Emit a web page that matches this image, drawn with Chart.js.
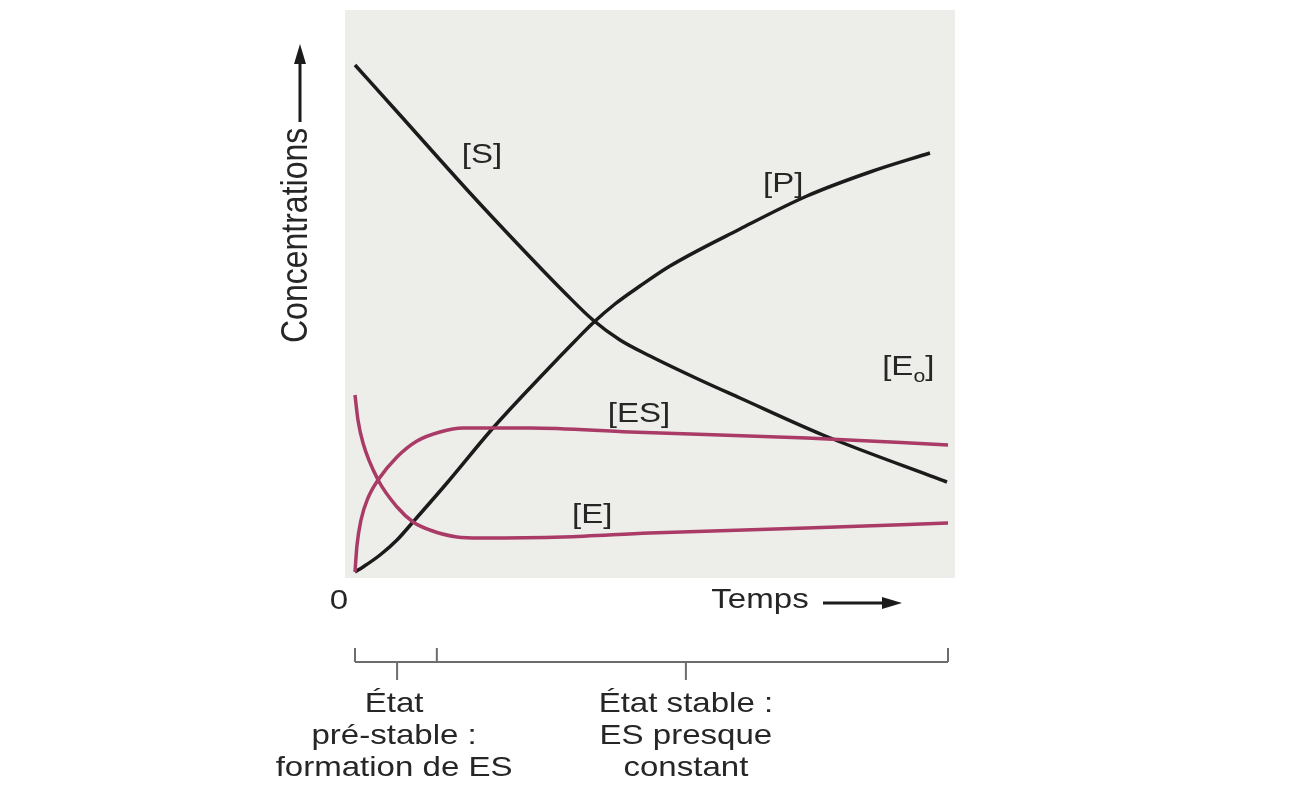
<!DOCTYPE html>
<html lang="fr">
<head>
<meta charset="utf-8">
<script src="https://cdn.jsdelivr.net/npm/chart.js@4/dist/chart.umd.min.js"></script>
<style>
  html, body { margin: 0; background: #fff; }
  #wrap { width: 1291px; height: 811px; position: relative; }
</style>
</head>
<body>
<div id="wrap"><canvas id="chart"></canvas></div>
<script>
// time runs 0..100, concentrations in arbitrary units
const sTime = [0, 7.59, 19.39, 29.51, 35.41, 40.13, 44.69, 49.75, 58.18, 64.92, 78.92, 99.83];
const sConc = [102, 92, 76.4, 63.6, 56.4, 51, 47, 43.8, 39, 35.4, 28, 18.6];

const pTime = [0, 1.35, 4.22, 7.08, 9.78, 15.51, 23.27, 32.38, 37.1, 40.13, 43.84, 48.06, 53.12, 64.92, 76.22, 86.85, 96.96];
const pConc = [0.6, 1.6, 4, 7, 10.6, 18.4, 29.4, 41, 46.8, 50.4, 54.2, 57.8, 61.8, 69.2, 75.8, 80.6, 84.4];

const esTime = [0, 0.34, 1.01, 2.19, 3.88, 7.08, 10.46, 14.33, 18.2, 29.5, 46.4, 76.2, 100];
const esConc = [0.6, 6, 11, 15.4, 19, 23.6, 26.8, 28.6, 29.4, 29.4, 28.6, 27.4, 26];

const eTime = [0, 0.5, 1.35, 3.9, 7.1, 9.8, 12.6, 17.2, 21.1, 35.1, 49.7, 76.2, 100];
const eConc = [36, 31, 26.4, 19, 13.6, 10.6, 9, 7.6, 7.4, 7.6, 8.4, 9.4, 10.4];

// phase bracket under the time axis
const phaseEdges = [0, 13.8, 100];
const phaseMarks = [7.1, 55.8];
const phaseLabels = [
  ['État', 'pré-stable :', 'formation de ES'],
  ['État stable :', 'ES presque', 'constant']
];

const INK = '#1b1b1b';
const PINK = '#a93b66';
const TEXT = '#262626';
const FONT = '"Liberation Sans", Arial, sans-serif';
const STRETCH = 1.18;

function toPoints(xs, ys) {
  return xs.map((x, i) => ({ x: x, y: ys[i] }));
}

function wideText(ctx, text, x, y, align) {
  ctx.save();
  ctx.translate(x, y);
  ctx.scale(STRETCH, 1);
  ctx.textAlign = align || 'center';
  ctx.textBaseline = 'alphabetic';
  ctx.fillText(text, 0, 0);
  ctx.restore();
}

function arrowHead(ctx, x, y, dir) {
  // dir: 'up' or 'right'
  ctx.beginPath();
  if (dir === 'up') {
    ctx.moveTo(x, y);
    ctx.lineTo(x - 6, y + 20);
    ctx.lineTo(x + 6, y + 20);
  } else {
    ctx.moveTo(x, y);
    ctx.lineTo(x - 20, y - 6);
    ctx.lineTo(x - 20, y + 6);
  }
  ctx.closePath();
  ctx.fill();
}

const paperPlugin = {
  id: 'paper',
  beforeDraw(chart) {
    const { ctx, chartArea } = chart;
    ctx.save();
    ctx.fillStyle = '#ededea';
    ctx.fillRect(chartArea.left, chartArea.top, chartArea.right - chartArea.left, chartArea.bottom - chartArea.top);
    ctx.restore();
  }
};

const annotatePlugin = {
  id: 'annotate',
  afterDraw(chart) {
    const { ctx, chartArea } = chart;
    const xs = chart.scales.x, ys = chart.scales.y;
    ctx.save();
    ctx.fillStyle = TEXT;
    ctx.font = '28px ' + FONT;

    // curve names
    wideText(ctx, '[S]', xs.getPixelForValue(21.4), ys.getPixelForValue(82.4));
    wideText(ctx, '[P]', xs.getPixelForValue(72.2), ys.getPixelForValue(76.6));
    wideText(ctx, '[ES]', xs.getPixelForValue(47.9), ys.getPixelForValue(30.6));
    wideText(ctx, '[E]', xs.getPixelForValue(40), ys.getPixelForValue(10.4));

    // [E0] with subscript
    let ex = xs.getPixelForValue(88.9), ey = ys.getPixelForValue(40);
    wideText(ctx, '[E', ex, ey, 'left');
    ex += ctx.measureText('[E').width * STRETCH;
    ctx.font = '18px ' + FONT;
    wideText(ctx, 'o', ex, ey + 7, 'left');
    ex += ctx.measureText('o').width * STRETCH;
    ctx.font = '28px ' + FONT;
    wideText(ctx, ']', ex, ey, 'left');

    // origin and time axis
    const x0 = xs.getPixelForValue(0);
    wideText(ctx, '0', x0 - 16, chartArea.bottom + 31);
    wideText(ctx, 'Temps', 760, chartArea.bottom + 30);
    ctx.strokeStyle = INK;
    ctx.fillStyle = INK;
    ctx.lineWidth = 3;
    ctx.beginPath();
    ctx.moveTo(823, chartArea.bottom + 25);
    ctx.lineTo(884, chartArea.bottom + 25);
    ctx.stroke();
    arrowHead(ctx, 902, chartArea.bottom + 25, 'right');

    // concentration axis
    const ax = chartArea.left - 45;
    ctx.beginPath();
    ctx.moveTo(ax, 122);
    ctx.lineTo(ax, 60);
    ctx.stroke();
    arrowHead(ctx, ax, 44, 'up');
    ctx.fillStyle = TEXT;
    ctx.save();
    ctx.translate(ax + 7, 343);
    ctx.rotate(-Math.PI / 2);
    ctx.scale(1, STRETCH);
    ctx.font = '32px ' + FONT;
    ctx.textAlign = 'left';
    ctx.fillText('Concentrations', 0, 0);
    ctx.restore();

    // phase bracket
    const by = 662;
    ctx.strokeStyle = '#6d6d6d';
    ctx.lineWidth = 2;
    ctx.beginPath();
    ctx.moveTo(xs.getPixelForValue(phaseEdges[0]), by);
    ctx.lineTo(xs.getPixelForValue(phaseEdges[phaseEdges.length - 1]), by);
    phaseEdges.forEach(v => {
      const px = xs.getPixelForValue(v);
      ctx.moveTo(px, by);
      ctx.lineTo(px, by - 14);
    });
    phaseMarks.forEach(v => {
      const px = xs.getPixelForValue(v);
      ctx.moveTo(px, by);
      ctx.lineTo(px, by + 18);
    });
    ctx.stroke();

    ctx.fillStyle = TEXT;
    ctx.font = '28px ' + FONT;
    phaseLabels.forEach((lines, i) => {
      const cx = xs.getPixelForValue(phaseMarks[i]) - (i === 0 ? 3 : 0);
      lines.forEach((t, j) => wideText(ctx, t, cx, 712 + j * 32));
    });
    ctx.restore();
  }
};

function curve(label, xs, ys, color) {
  return {
    label: label,
    data: toPoints(xs, ys),
    borderColor: color,
    borderWidth: 3.5,
    pointRadius: 0,
    cubicInterpolationMode: 'monotone',
    fill: false
  };
}

new Chart(document.getElementById('chart'), {
  type: 'line',
  data: {
    datasets: [
      curve('[ES]', esTime, esConc, PINK),
      curve('[E]', eTime, eConc, PINK),
      curve('[S]', sTime, sConc, INK),
      curve('[P]', pTime, pConc, INK)
    ]
  },
  options: {
    responsive: true,
    maintainAspectRatio: false,
    animation: false,
    layout: { padding: { left: 345, top: 10, right: 336, bottom: 233 } },
    plugins: {
      legend: { display: false },
      tooltip: { enabled: false }
    },
    scales: {
      x: { type: 'linear', min: -1.686, max: 101.18, display: false },
      y: { type: 'linear', min: -0.6, max: 113, display: false }
    }
  },
  plugins: [paperPlugin, annotatePlugin]
});
</script>
</body>
</html>
